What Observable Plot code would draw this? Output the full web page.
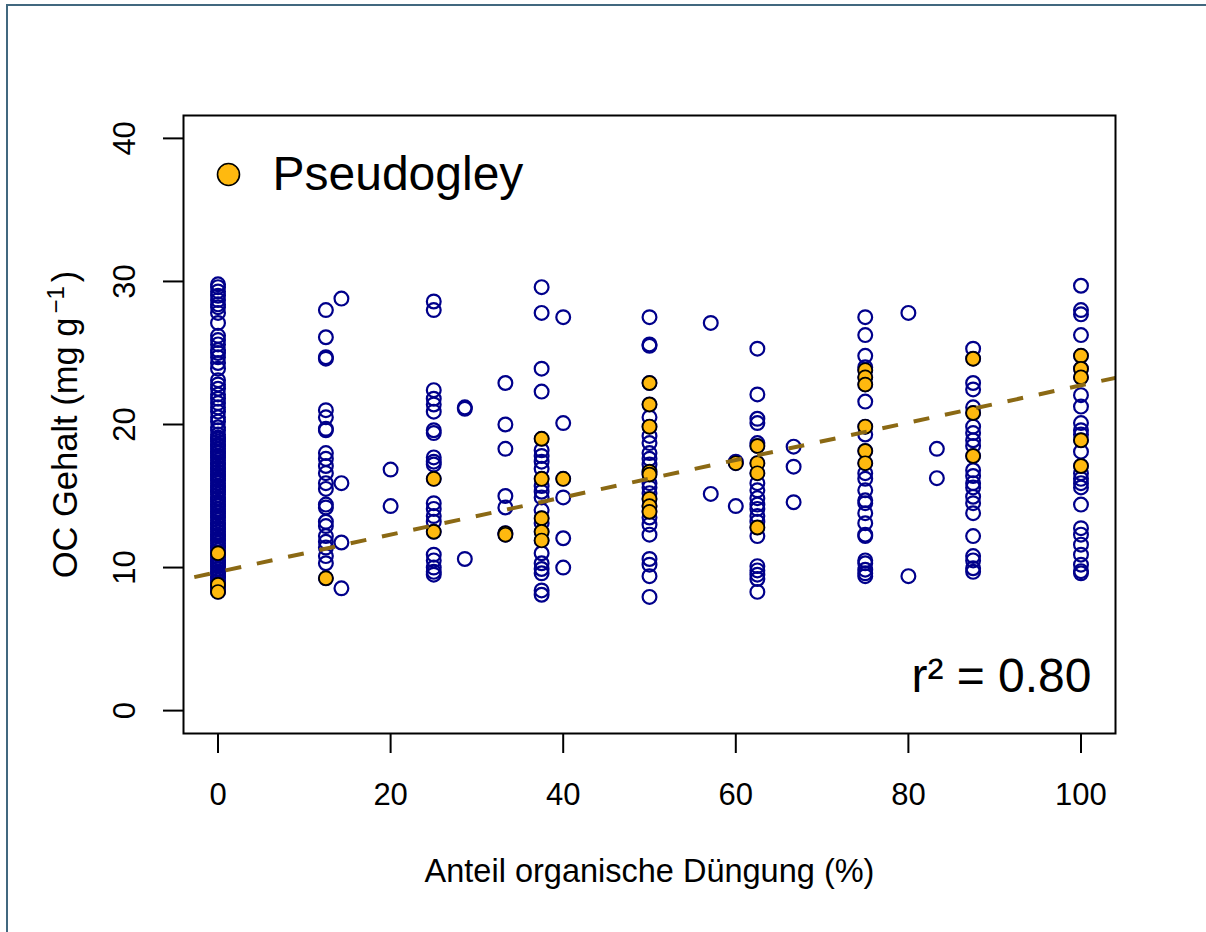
<!DOCTYPE html>
<html>
<head>
<meta charset="utf-8">
<script src="https://cdn.jsdelivr.net/npm/d3@7"></script>
<script src="https://cdn.jsdelivr.net/npm/@observablehq/plot@0.6"></script>
<style>
  html, body { margin: 0; padding: 0; background: #fff; overflow: hidden; }
  #wrap { position: relative; width: 1206px; height: 932px; }
  #border { position: absolute; left: 6px; top: 4px; width: 1400px; height: 1200px;
            border-left: 2px solid #41687f; border-top: 2px solid #41687f; pointer-events: none; }
  #chart { position: absolute; left: 0; top: 0; }
</style>
</head>
<body>
<div id="wrap"><div id="chart"></div><div id="border"></div></div>
<script>
// ---- data (OC content in mg/g by share of organic fertilisation %) ----
const xTicks = [0, 20, 40, 60, 80, 100];
const yTicks = [0, 10, 20, 30, 40];

// all soils (open blue circles), by fertilisation share
const oc_0 = [29.8, 29.6, 29.3, 29.0, 28.7, 28.4, 28.2, 27.8, 27.1, 26.2, 25.9, 25.6, 25.2, 25.0, 24.7,
  24.3, 23.9, 23.1, 22.8, 22.5, 22.1, 21.8, 21.5, 21.2, 20.9, 20.5, 20.2, 19.8, 19.6, 19.3,
  19.1, 19.0, 18.8, 18.6, 18.5, 18.3, 18.1, 18.0, 17.8, 17.7, 17.5, 17.3, 17.2, 17.0, 16.9,
  16.7, 16.5, 16.4, 16.2, 16.1, 15.9, 15.7, 15.6, 15.4, 15.3, 15.1, 14.9, 14.8, 14.6, 14.4,
  14.3, 14.1, 13.9, 13.8, 13.6, 13.5, 13.3, 13.1, 13.0, 12.8, 12.7, 12.5, 12.3, 12.2, 12.0,
  11.9, 11.7, 11.5, 11.4, 11.2, 11.0, 10.9, 10.7, 10.5, 10.4, 10.2, 10.1, 9.9, 9.7, 9.6,
  9.4, 9.3, 9.1, 8.9, 8.8, 8.6, 8.5, 8.4];
const oc_12_5 = [28.0, 26.1, 24.7, 24.6, 21.0, 20.5, 19.7, 19.6, 18.0, 17.6, 17.1, 16.6, 15.9, 15.5,
  14.4, 14.2, 13.2, 12.9, 12.2, 11.8, 11.4, 10.8, 10.3];
const oc_14_3 = [28.8, 15.9, 11.75, 8.55];
const oc_20 = [16.85, 14.3];
const oc_25 = [28.6, 28.0, 22.4, 21.8, 21.4, 20.9, 19.6, 19.4, 17.7, 17.4, 17.2, 14.5, 14.1, 13.6,
  13.2, 10.9, 10.5, 10.0, 9.7, 9.5];
const oc_28_6 = [21.2, 21.1, 10.6];
const oc_33_3 = [22.9, 20.0, 18.3, 15.0, 14.2];
const oc_37_5 = [29.6, 27.8, 23.9, 22.3, 18.2, 17.8, 17.4, 16.9, 15.7, 15.3, 14.9, 14.0, 13.1, 11.0,
  10.3, 9.9, 9.6, 8.4, 8.1];
const oc_40 = [27.5, 20.1, 14.9, 12.05, 10.0];
const oc_50 = [27.5, 25.6, 25.5, 20.5, 19.2, 18.7, 18.0, 17.6, 17.2, 15.9, 15.6, 15.2, 13.5, 13.0,
  12.3, 10.6, 10.2, 9.4, 7.95];
const oc_57_1 = [27.1, 15.15];
const oc_60 = [17.4, 14.3];
const oc_62_5 = [25.3, 22.1, 20.4, 20.1, 18.7, 15.9, 15.4, 14.85, 14.4, 14.1, 13.6, 13.2, 12.2, 10.1,
  9.8, 9.5, 9.2, 8.3];
const oc_66_7 = [18.45, 17.05, 14.57];
const oc_75 = [27.5, 26.25, 24.8, 24.0, 21.6, 19.3, 16.6, 16.2, 15.4, 14.7, 14.5, 13.8, 13.1, 12.3,
  12.2, 10.5, 10.3, 9.85, 9.6, 9.4];
const oc_80 = [27.8, 9.4];
const oc_83_3 = [18.3, 16.25];
const oc_87_5 = [25.3, 22.9, 22.45, 21.2, 19.85, 19.4, 18.9, 18.5, 16.8, 16.4, 15.9, 15.6, 14.95,
  14.5, 13.8, 12.2, 10.8, 10.5, 9.95, 9.7];
const oc_100 = [29.7, 28.0, 27.7, 26.25, 22.05, 21.25, 20.1, 19.6, 19.3, 18.1, 16.6, 16.2, 15.9,
  15.6, 14.4, 12.75, 12.3, 11.6, 10.9, 10.2, 9.75, 9.6];

// Pseudogley (filled orange)
const pg_0 = [11.0, 8.8, 8.3];
const pg_12_5 = [9.25];
const pg_25 = [16.2, 12.5];
const pg_33_3 = [12.4, 12.3];
const pg_37_5 = [19.0, 16.2, 13.45, 12.5, 11.9];
const pg_40 = [16.2];
const pg_50 = [22.9, 21.4, 19.85, 16.7, 16.5, 14.8, 14.3, 13.9];
const pg_60 = [17.3];
const pg_62_5 = [18.5, 17.3, 16.6, 12.8];
const pg_75 = [23.8, 23.3, 22.8, 19.85, 18.15, 17.3];
const pg_87_5 = [24.6, 20.8, 17.8];
const pg_100 = [24.8, 23.9, 23.3, 18.9, 17.1];

// regression line (fitted coefficients)
const fitIntercept = 9.69;
const fitSlope = 0.1305;
const fitRange = [-10, 110];
const r2Label = "r² = 0.80";
const legendLabel = "Pseudogley";
const xTitle = "Anteil organische Düngung (%)";
const yTitleMain = "OC Gehalt (mg g";
const yTitleSup = "−1";

// ---- build tables ----
const allGroups = [[0, oc_0], [12.5, oc_12_5], [14.3, oc_14_3], [20, oc_20], [25, oc_25],
  [28.6, oc_28_6], [33.3, oc_33_3], [37.5, oc_37_5], [40, oc_40], [50, oc_50], [57.1, oc_57_1],
  [60, oc_60], [62.5, oc_62_5], [66.7, oc_66_7], [75, oc_75], [80, oc_80], [83.3, oc_83_3],
  [87.5, oc_87_5], [100, oc_100]];
const pgGroups = [[0, pg_0], [12.5, pg_12_5], [25, pg_25], [33.3, pg_33_3], [37.5, pg_37_5],
  [40, pg_40], [50, pg_50], [60, pg_60], [62.5, pg_62_5], [75, pg_75], [87.5, pg_87_5], [100, pg_100]];
const flatten = groups => groups.flatMap(([x, ys]) => ys.map(y => ({x, y})));
const allPts = flatten(allGroups).concat(flatten(pgGroups));
const pgPts = flatten(pgGroups);
const fitLine = fitRange.map(x => ({x, y: fitIntercept + fitSlope * x}));

const font = "'Liberation Sans', Arial, Helvetica, sans-serif";

const chart = Plot.plot({
  width: 1206,
  height: 932,
  marginLeft: 183,
  marginRight: 91,
  marginTop: 115,
  marginBottom: 199,
  style: {fontFamily: font, background: "transparent", color: "black", overflow: "visible"},
  x: {domain: [-4, 104]},
  y: {domain: [-1.6, 41.6]},
  marks: [
    Plot.axisX({ticks: xTicks, tickSize: 20, tickPadding: 29, fontSize: 31, label: null, strokeWidth: 2}),
    Plot.axisY({ticks: yTicks, tickSize: 20, tickFormat: () => "", label: null, strokeWidth: 2}),
    Plot.text(yTicks, {y: d => d, text: d => String(d), frameAnchor: "left", dx: -58, rotate: -90,
      fontSize: 31, textAnchor: "middle", lineAnchor: "middle", fill: "black"}),
    Plot.text([yTitleMain], {text: d => d, frameAnchor: "left", dx: -118, rotate: -90, fontSize: 34.5,
      textAnchor: "middle", lineAnchor: "middle", fill: "black", className: "ytitle"}),
    Plot.text([xTitle], {text: d => d, frameAnchor: "bottom", dy: 138, fontSize: 32.5,
      textAnchor: "middle", lineAnchor: "middle", fill: "black"}),
    Plot.dot(allPts, {x: "x", y: "y", r: 6.9, stroke: "#00008B", strokeWidth: 2.2, fill: "none"}),
    Plot.dot(pgPts, {x: "x", y: "y", r: 6.9, stroke: "black", strokeWidth: 1.7, fill: "#FFB90F"}),
    Plot.line(fitLine, {x: "x", y: "y", stroke: "#8B6914", strokeWidth: 4, strokeDasharray: "16,16",
      strokeLinecap: "butt", clip: true}),
    Plot.frame({stroke: "black", strokeWidth: 2}),
    Plot.dot([legendLabel], {frameAnchor: "top-left", dx: 45, dy: 59, r: 11, fill: "#FFB90F",
      stroke: "black", strokeWidth: 1.6}),
    Plot.text([legendLabel], {text: d => d, frameAnchor: "top-left", dx: 89, dy: 59, fontSize: 48,
      textAnchor: "start", lineAnchor: "middle", fill: "black"}),
    Plot.text([r2Label], {text: d => d, frameAnchor: "bottom-right", dx: -24, dy: -57, fontSize: 48,
      textAnchor: "end", lineAnchor: "middle", fill: "black"})
  ]
});

// y title with a real superscript (mg g^-1)
const yt = chart.querySelector(".ytitle text");
if (yt) {
  yt.textContent = "";
  const ns = "http://www.w3.org/2000/svg";
  const t1 = document.createElementNS(ns, "tspan");
  t1.textContent = yTitleMain;
  const t2 = document.createElementNS(ns, "tspan");
  t2.textContent = yTitleSup;
  t2.setAttribute("font-size", "24");
  t2.setAttribute("dy", "-13");
  t2.setAttribute("dx", "4");
  const t3 = document.createElementNS(ns, "tspan");
  t3.textContent = ")";
  t3.setAttribute("dy", "13");
  t3.setAttribute("dx", "4");
  yt.append(t1, t2, t3);
}
document.getElementById("chart").appendChild(chart);
</script>
</body>
</html>
